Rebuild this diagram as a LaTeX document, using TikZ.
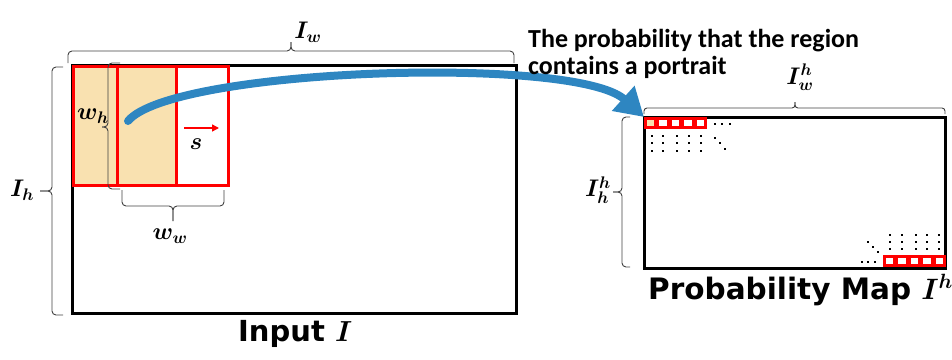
\documentclass[tikz,border=0pt]{standalone}
\usepackage{fix-cm}
\usepackage{amsmath,bm}
\usepackage{fontspec}
\newfontfamily\titlefont{Carlito}
\newfontfamily\mapfont{DejaVu Sans}
\usetikzlibrary{arrows.meta}
\definecolor{winred}{RGB}{255,0,0}
\definecolor{tanfill}{RGB}{249,225,176}
\definecolor{arrowblue}{RGB}{46,134,193}
\begin{document}
\begin{tikzpicture}[x=1pt,y=-1pt,
  frame/.style={draw=black, line width=3pt, inner sep=0pt},
  window/.style={draw=winred, line width=3pt, inner sep=0pt},
  cell/.style={draw=winred, line width=2.6pt, fill=white, minimum width=10pt, minimum height=9.4pt, inner sep=0pt},
  bracepath/.style={draw=black!75, line width=0.9pt, rounded corners=4pt},
  lbl/.style={inner sep=0pt, font=\fontsize{24}{24}\selectfont},
  dotsq/.style={fill=black},
  bluearrow/.style={draw=arrowblue, line width=8pt, line cap=round, -{Triangle[length=28pt,width=32pt]}},
  sarrow/.style={draw=winred, line width=1.5pt, -{Triangle[length=7pt,width=7pt]}},
  titletext/.style={inner sep=0pt, anchor=base west, font=\titlefont\bfseries\fontsize{26}{27}\selectfont},
  captext/.style={inner sep=0pt, anchor=base west, font=\mapfont\bfseries\fontsize{29}{29}\selectfont},
]
\useasboundingbox (0,0) rectangle (952,359);

% input image and sliding windows
\node[frame, minimum width=444pt, minimum height=248pt] (input) at (294,189) {};
\node[window, fill=tanfill, minimum width=102.5pt, minimum height=119pt] (win1) at (124.75,125.5) {};
\node[window, minimum width=111pt, minimum height=119pt] (win2) at (172.5,125.5) {};

% braces of the input
\draw[bracepath] (68,63) -- (68,51) -- (291,51) -- (291,42);
\draw[bracepath] (291,42) -- (291,51) -- (514,51) -- (514,63);
\draw[bracepath] (63,67) -- (52,67) -- (52,191) -- (40,191);
\draw[bracepath] (40,191) -- (52,191) -- (52,315) -- (63,315);
\draw[bracepath] (120,63) -- (108,63) -- (108,127) -- (102,127);
\draw[bracepath] (102,127) -- (108,127) -- (108,189) -- (120,189);
\draw[bracepath] (122,190) -- (122,206) -- (173,206) -- (173,221);
\draw[bracepath] (173,221) -- (173,206) -- (224,206) -- (224,190);

% labels of the input
\node[lbl] (lIw) at (308,32) {$\bm{I_w}$};
\node[lbl] (lIh) at (22,190) {$\bm{I_h}$};
\node[lbl] (lwh) at (93,116) {$\bm{w_h}$};
\node[lbl] (lww) at (170,236) {$\bm{w_w}$};
\node[lbl] (ls) at (196,144) {$\bm{s}$};

% stride arrow
\coordinate (sA) at (184,128);
\coordinate (sB) at (219,128);
\draw[sarrow] (sA) -- (sB);

% probability map
\node[frame, minimum width=301pt, minimum height=151pt] (pmap) at (794.5,192.5) {};
\draw[bracepath, rounded corners=3pt] (644,114) -- (644,108) -- (795,108) -- (795,102);
\draw[bracepath, rounded corners=3pt] (795,102) -- (795,108) -- (945,108) -- (945,114);
\draw[bracepath] (630,117) -- (622,117) -- (622,192) -- (613,192);
\draw[bracepath] (613,192) -- (622,192) -- (622,267) -- (630,267);
\node[lbl] (lIwh) at (800,77) {$\bm{I}^{\bm{h}}_{\bm{w}}$};
\node[lbl] (lIhh) at (598,190) {$\bm{I}^{\bm{h}}_{\bm{h}}$};

% cells
\node[cell, fill=tanfill] (t0) at (650.3,123) {};
\foreach \i in {1,...,4} \node[cell] (t\i) at ({650.3+12.6*\i},123) {};
\foreach \i in {0,...,4} \node[cell] (b\i) at ({889.3+12.6*\i},261) {};

% dots top-left
\foreach \x in {715,722,730} \fill[dotsq] (\x-1.4,124-1.4) rectangle ++(2.8,2.8);
\foreach \x in {652,663,677,689,701} \foreach \y in {136,143,151} \fill[dotsq] (\x-1.4,\y-1.4) rectangle ++(2.8,2.8);
\foreach \x/\y in {715/138,720/143,725/149} \fill[dotsq] (\x-1.4,\y-1.4) rectangle ++(2.8,2.8);
% dots bottom-right
\foreach \x in {862,868,875} \fill[dotsq] (\x-1.4,262-1.4) rectangle ++(2.8,2.8);
\foreach \x in {890,902,916,927,939} \foreach \y in {235,242,249} \fill[dotsq] (\x-1.4,\y-1.4) rectangle ++(2.8,2.8);
\foreach \x/\y in {868/242,873/247,878/252} \fill[dotsq] (\x-1.4,\y-1.4) rectangle ++(2.8,2.8);

% blue arrow
\coordinate (start) at (128,121);
\draw[bluearrow] (start) .. controls (172,68) and (575,55) .. (t0.north west);

% texts
\node[titletext] (title1) at (528,47) {The probability that the region};
\node[titletext] (title2) at (528,74) {contains a portrait};
\node[captext] (inp) at (238,341) {Input $\bm{I}$};
\node[captext, font=\mapfont\bfseries\fontsize{29.5}{29.5}\selectfont] (pm) at (648,299) {Probability Map $\bm{I^h}$};
\end{tikzpicture}
\end{document}
